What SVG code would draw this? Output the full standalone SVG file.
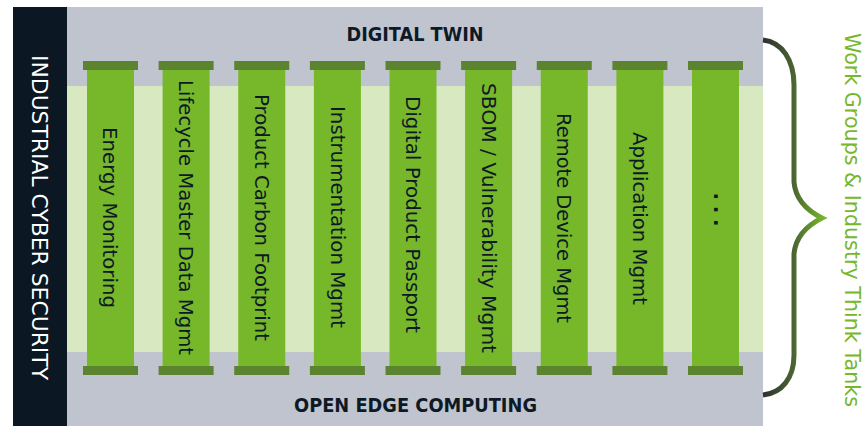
<svg xmlns="http://www.w3.org/2000/svg" width="866" height="426" viewBox="0 0 866 426">
<style>
.cap{fill:#5b8330}
.body{fill:#77b72a}
.lbl{font-family:"DejaVu Sans","Liberation Sans",Arial,sans-serif;font-size:20px;fill:#0d1a26;text-anchor:middle}
.side{font-family:"DejaVu Sans","Liberation Sans",Arial,sans-serif;font-size:21px;text-anchor:middle}
.layer{font-family:"DejaVu Sans","Liberation Sans",Arial,sans-serif;font-size:19px;font-weight:bold;fill:#0d1a26;text-anchor:middle}
</style>
<defs>
<linearGradient id="br" gradientUnits="userSpaceOnUse" x1="763" y1="0" x2="824" y2="0">
<stop offset="0" stop-color="#2e3030"/>
<stop offset="0.5" stop-color="#4b6432"/>
<stop offset="1" stop-color="#77b72a"/>
</linearGradient>
</defs>
<rect width="866" height="426" fill="#ffffff"/>
<g id="frame">
<rect x="67" y="7" width="696" height="419" fill="#c0c4cf"/>
<rect x="67" y="86" width="696" height="266" fill="#d8e9c2"/>
</g>
<g id="security">
<rect x="13" y="7" width="54" height="419" fill="#0b1723"/>
<text class="side" transform="translate(32,217.5) rotate(90)" fill="#ffffff" textLength="325" lengthAdjust="spacingAndGlyphs">INDUSTRIAL CYBER SECURITY</text>
</g>
<g id="digital-twin">
<text class="layer" x="415" y="41" textLength="137" lengthAdjust="spacingAndGlyphs">DIGITAL TWIN</text>
</g>
<g id="open-edge">
<text class="layer" x="415.5" y="412" textLength="243" lengthAdjust="spacingAndGlyphs">OPEN EDGE COMPUTING</text>
</g>
<g id="p1">
<rect class="body" x="87" y="70" width="47" height="296"/>
<rect class="cap" x="83" y="61" width="55" height="9"/><rect class="cap" x="83" y="366" width="55" height="9"/>
<text class="lbl" transform="translate(103,217.5) rotate(90)" textLength="181" lengthAdjust="spacingAndGlyphs">Energy Monitoring</text>
</g>
<g id="p2">
<rect class="body" x="162.6" y="70" width="47" height="296"/>
<rect class="cap" x="158.6" y="61" width="55" height="9"/><rect class="cap" x="158.6" y="366" width="55" height="9"/>
<text class="lbl" transform="translate(179,217.5) rotate(90)" textLength="275" lengthAdjust="spacingAndGlyphs">Lifecycle Master Data Mgmt</text>
</g>
<g id="p3">
<rect class="body" x="238.25" y="70" width="47" height="296"/>
<rect class="cap" x="234.25" y="61" width="55" height="9"/><rect class="cap" x="234.25" y="366" width="55" height="9"/>
<text class="lbl" transform="translate(254.5,217.5) rotate(90)" textLength="247" lengthAdjust="spacingAndGlyphs">Product Carbon Footprint</text>
</g>
<g id="p4">
<rect class="body" x="313.9" y="70" width="47" height="296"/>
<rect class="cap" x="309.9" y="61" width="55" height="9"/><rect class="cap" x="309.9" y="366" width="55" height="9"/>
<text class="lbl" transform="translate(331,217) rotate(90)" textLength="222" lengthAdjust="spacingAndGlyphs">Instrumentation Mgmt</text>
</g>
<g id="p5">
<rect class="body" x="389.5" y="70" width="47" height="296"/>
<rect class="cap" x="385.5" y="61" width="55" height="9"/><rect class="cap" x="385.5" y="366" width="55" height="9"/>
<text class="lbl" transform="translate(406,214.5) rotate(90)" textLength="237" lengthAdjust="spacingAndGlyphs">Digital Product Passport</text>
</g>
<g id="p6">
<rect class="body" x="465.1" y="70" width="47" height="296"/>
<rect class="cap" x="461.1" y="61" width="55" height="9"/><rect class="cap" x="461.1" y="366" width="55" height="9"/>
<text class="lbl" transform="translate(481.5,218) rotate(90)" textLength="270" lengthAdjust="spacingAndGlyphs">SBOM / Vulnerability Mgmt</text>
</g>
<g id="p7">
<rect class="body" x="540.75" y="70" width="47" height="296"/>
<rect class="cap" x="536.75" y="61" width="55" height="9"/><rect class="cap" x="536.75" y="366" width="55" height="9"/>
<text class="lbl" transform="translate(557,218) rotate(90)" textLength="210" lengthAdjust="spacingAndGlyphs">Remote Device Mgmt</text>
</g>
<g id="p8">
<rect class="body" x="616.4" y="70" width="47" height="296"/>
<rect class="cap" x="612.4" y="61" width="55" height="9"/><rect class="cap" x="612.4" y="366" width="55" height="9"/>
<text class="lbl" transform="translate(633,218.5) rotate(90)" textLength="173" lengthAdjust="spacingAndGlyphs">Application Mgmt</text>
</g>
<g id="p9">
<rect class="body" x="692" y="70" width="47" height="296"/>
<rect class="cap" x="688" y="61" width="55" height="9"/><rect class="cap" x="688" y="366" width="55" height="9"/>
<text class="lbl" transform="translate(713.5,209.5) rotate(90)" font-weight="bold" textLength="34" lengthAdjust="spacing">. . .</text>
</g>
<g id="connectors">
<path d="M763,40 C782,42 794,60 794,85 L794,182 Q796,205 822,218 Q796,231 794,254 L794,355 C794,378 782,393 763,395" fill="none" stroke="url(#br)" stroke-width="5"/>
</g>
<g id="think-tanks">
<text class="side" transform="translate(845,220) rotate(90)" fill="#77b72a" textLength="374" lengthAdjust="spacingAndGlyphs">Work Groups &amp; Industry Think Tanks</text>
</g>
</svg>
